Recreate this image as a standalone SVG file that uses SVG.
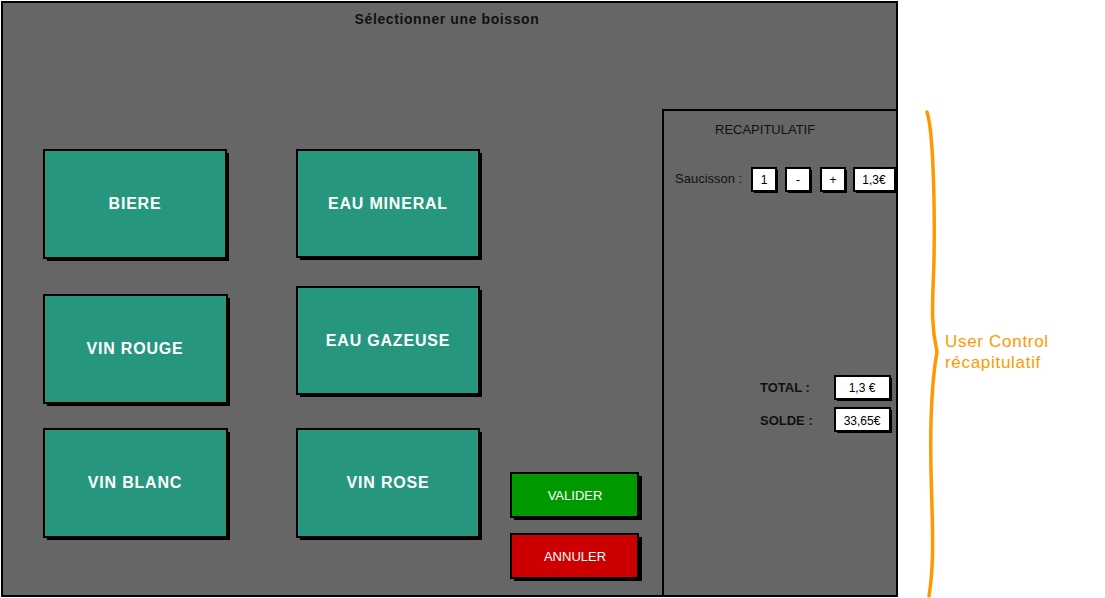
<svg xmlns="http://www.w3.org/2000/svg" width="1105" height="598" viewBox="0 0 1105 598">
<style>
.frame{fill:#666666;stroke:#000;stroke-width:2}
.shadow{fill:#000}
.tile{fill:#26967f;stroke:#000;stroke-width:2}
.tlabel{font-family:"Liberation Sans",Arial,sans-serif;font-weight:bold;font-size:16px;fill:#fff;text-anchor:middle;letter-spacing:0.8px}
.blabel{font-family:"Liberation Sans",Arial,sans-serif;font-size:13px;fill:#fff;text-anchor:middle}
.small{font-family:"Liberation Sans",Arial,sans-serif;font-size:13px;fill:#111}
.field{fill:#fff;stroke:#000;stroke-width:2}
.ftext{font-family:"Liberation Sans",Arial,sans-serif;font-size:12px;fill:#000;text-anchor:middle}
.note{font-family:"Liberation Sans",Arial,sans-serif;font-size:17px;fill:#ff9900;letter-spacing:0.7px}
</style>
<g id="window">
<rect class="frame" x="2" y="2" width="895" height="594"/>
<text x="447" y="24" font-family="Liberation Sans, Arial, sans-serif" font-size="14" font-weight="bold" fill="#111" text-anchor="middle" letter-spacing="0.6">Sélectionner une boisson</text>
</g>
<g id="biere"><rect class="shadow" x="47" y="153" width="182" height="108"/><rect class="tile" x="44" y="150" width="182" height="108"/><text class="tlabel" x="135" y="209">BIERE</text></g>
<g id="eau-mineral"><rect class="shadow" x="300" y="153" width="182" height="107"/><rect class="tile" x="297" y="150" width="182" height="107"/><text class="tlabel" x="388" y="209">EAU MINERAL</text></g>
<g id="vin-rouge"><rect class="shadow" x="47" y="298" width="183" height="108"/><rect class="tile" x="44" y="295" width="183" height="108"/><text class="tlabel" x="135" y="354">VIN ROUGE</text></g>
<g id="eau-gazeuse"><rect class="shadow" x="300" y="290" width="182" height="107"/><rect class="tile" x="297" y="287" width="182" height="107"/><text class="tlabel" x="388" y="346">EAU GAZEUSE</text></g>
<g id="vin-blanc"><rect class="shadow" x="47" y="432" width="183" height="108"/><rect class="tile" x="44" y="429" width="183" height="108"/><text class="tlabel" x="135" y="488">VIN BLANC</text></g>
<g id="vin-rose"><rect class="shadow" x="300" y="432" width="182" height="108"/><rect class="tile" x="297" y="429" width="182" height="108"/><text class="tlabel" x="388" y="488">VIN ROSE</text></g>
<g id="valider"><rect class="shadow" x="514" y="476" width="128" height="44"/><rect x="511" y="473" width="127" height="44" fill="#009900" stroke="#000" stroke-width="2"/><text class="blabel" x="575" y="500">VALIDER</text></g>
<g id="annuler"><rect class="shadow" x="514" y="537" width="128" height="44"/><rect x="511" y="534" width="127" height="44" fill="#cc0000" stroke="#000" stroke-width="2"/><text class="blabel" x="575" y="561">ANNULER</text></g>
<g id="recap">
<rect class="frame" x="663" y="110" width="234" height="486"/>
<text class="small" x="715" y="134">RECAPITULATIF</text>
<text class="small" x="675" y="183">Saucisson :</text>
<rect class="shadow" x="754" y="170" width="24" height="23"/><rect class="field" x="752" y="168" width="24" height="23"/><text class="ftext" x="764" y="184">1</text>
<rect class="shadow" x="788" y="170" width="24" height="23"/><rect class="field" x="786" y="168" width="24" height="23"/><text class="ftext" x="798" y="184">-</text>
<rect class="shadow" x="823" y="170" width="24" height="23"/><rect class="field" x="821" y="168" width="24" height="23"/><text class="ftext" x="833" y="184">+</text>
<rect class="shadow" x="856" y="170" width="41" height="23"/><rect class="field" x="854" y="168" width="41" height="23"/><text class="ftext" x="874" y="184">1,3€</text>
<text class="small" x="760" y="392" font-weight="bold" font-size="13">TOTAL :</text>
<rect class="shadow" x="837" y="378" width="55" height="23"/><rect class="field" x="835" y="376" width="55" height="23"/><text class="ftext" x="862" y="392">1,3 €</text>
<text class="small" x="760" y="425" font-weight="bold" font-size="13">SOLDE :</text>
<rect class="shadow" x="837" y="410" width="55" height="23"/><rect class="field" x="835" y="408" width="55" height="23"/><text class="ftext" x="862" y="425">33,65€</text>
</g>
<g id="connectors">
<path d="M927,112 C933,130 935,200 934,260 C933,300 930,320 937,352 C932,380 930,420 931,470 C932,520 935,560 929,596" fill="none" stroke="#ff9900" stroke-width="3.5" stroke-linecap="round"/>
</g>
<g id="note">
<text class="note" x="945" y="347">User Control</text>
<text class="note" x="945" y="368">récapitulatif</text>
</g>
</svg>
